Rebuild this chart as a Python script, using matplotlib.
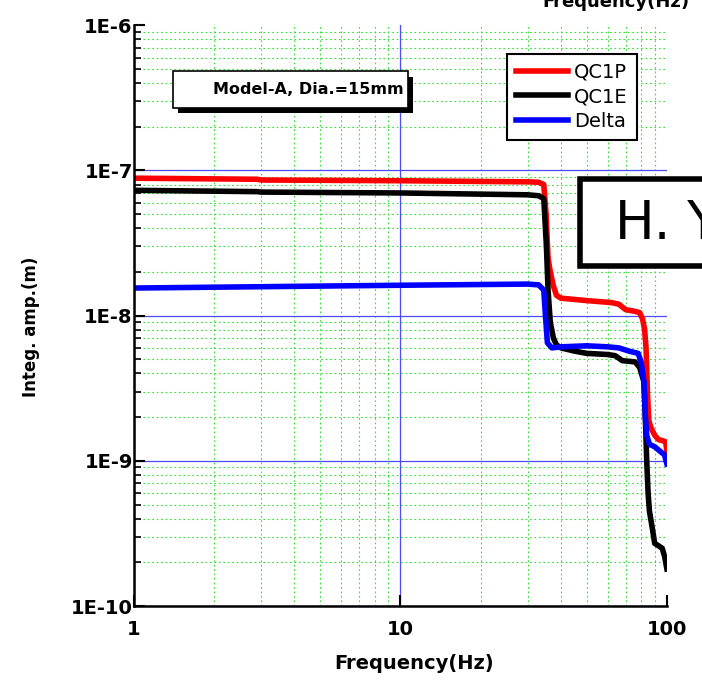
import numpy as np
import matplotlib.pyplot as plt
from matplotlib.patches import Rectangle
from matplotlib.ticker import LogLocator, NullFormatter, FixedLocator

# integrated amplitude vs frequency
f_qc1p = [1, 2.9, 3.0, 10, 30, 33, 34.5, 35.2, 35.8, 36.5, 37.5, 38.5, 40, 50, 62, 66, 70, 76, 79,
          81, 82.5, 83.5, 84.5, 85.5, 87, 90, 93, 96, 99, 100]
a_qc1p = [8.85e-8, 8.7e-8, 8.6e-8, 8.5e-8, 8.35e-8, 8.3e-8, 8.0e-8, 5e-8, 2.5e-8, 2.0e-8, 1.6e-8,
          1.38e-8, 1.32e-8, 1.27e-8, 1.23e-8, 1.2e-8, 1.1e-8, 1.07e-8, 1.05e-8, 9.5e-9, 8e-9, 6e-9,
          3e-9, 1.9e-9, 1.7e-9, 1.5e-9, 1.4e-9, 1.38e-9, 1.35e-9, 1.15e-9]

f_qc1e = [1, 2.9, 3.0, 10, 30, 33, 34.5, 35.3, 35.8, 36.5, 37.5, 38.5, 40, 45, 50, 60, 64, 68, 76,
          79, 82, 83, 84, 85, 86, 88, 90, 93, 96, 98, 100]
a_qc1e = [7.3e-8, 7.15e-8, 7.1e-8, 7.0e-8, 6.8e-8, 6.7e-8, 6.4e-8, 3e-8, 1.5e-8, 9e-9, 7e-9, 6.3e-9,
          6.0e-9, 5.7e-9, 5.5e-9, 5.4e-9, 5.3e-9, 4.9e-9, 4.8e-9, 4.4e-9, 3.5e-9, 2e-9, 1e-9, 6e-10,
          4.5e-10, 3.5e-10, 2.7e-10, 2.6e-10, 2.5e-10, 2.2e-10, 1.8e-10]

f_delta = [1, 10, 30, 33, 34.5, 35, 35.6, 37, 40, 50, 60, 66, 72, 78, 80, 82, 83, 84, 86, 90, 95, 98, 100]
a_delta = [1.55e-8, 1.62e-8, 1.65e-8, 1.63e-8, 1.5e-8, 1.0e-8, 6.5e-9, 6.0e-9, 6.1e-9, 6.2e-9, 6.1e-9,
           6.0e-9, 5.7e-9, 5.5e-9, 4.8e-9, 3.5e-9, 2e-9, 1.5e-9, 1.3e-9, 1.25e-9, 1.15e-9, 1.1e-9, 0.95e-9]

y_ticks = [1e-10, 1e-9, 1e-8, 1e-7, 1e-6]
y_labels = ['1E-10', '1E-9', '1E-8', '1E-7', '1E-6']
x_ticks = [1, 10, 100]
x_labels = ['1', '10', '100']

plt.rcParams['font.family'] = ['DejaVu Sans']
plt.rcParams['xtick.direction'] = 'in'
plt.rcParams['ytick.direction'] = 'in'

fig = plt.figure(figsize=(7.02, 6.84), dpi=100)
ax = fig.add_axes([0.191, 0.114, 0.759, 0.849])

ax.plot(f_qc1p, a_qc1p, color='#ff0000', lw=4, label='QC1P', solid_joinstyle='round')
ax.plot(f_qc1e, a_qc1e, color='black', lw=4, label='QC1E', solid_joinstyle='round')
ax.plot(f_delta, a_delta, color='#0000ff', lw=4, label='Delta', solid_joinstyle='round')

ax.set_xscale('log')
ax.set_yscale('log')
ax.set_xlim(1, 100)
ax.set_ylim(1e-10, 1e-6)

ax.xaxis.set_major_locator(FixedLocator(x_ticks))
ax.set_xticklabels(x_labels)
ax.yaxis.set_major_locator(FixedLocator(y_ticks))
ax.set_yticklabels(y_labels)
ax.xaxis.set_minor_locator(LogLocator(base=10, subs=np.arange(2, 10)))
ax.yaxis.set_minor_locator(LogLocator(base=10, subs=np.arange(2, 10)))
ax.xaxis.set_minor_formatter(NullFormatter())
ax.yaxis.set_minor_formatter(NullFormatter())

ax.grid(True, which='minor', color='#33dd33', ls=(0, (1.5, 2.5)), lw=0.8)
ax.grid(True, which='major', color='#4a4aff', ls='-', lw=0.9)
ax.set_axisbelow(True)
# no major grid on the outer edges
ax.yaxis.get_gridlines()[-1].set_visible(False)
ax.xaxis.get_gridlines()[-1].set_visible(False)

for s in ['top', 'right']:
    ax.spines[s].set_visible(False)
for s in ['left', 'bottom']:
    ax.spines[s].set_linewidth(1.8)

ax.tick_params(axis='both', which='major', direction='in', length=8, width=1.5, labelsize=14)
ax.tick_params(axis='y', which='major', pad=1)
ax.tick_params(axis='x', which='major', pad=10)
ax.tick_params(axis='both', which='minor', direction='in', length=5, width=1.2)
ax.tick_params(axis='x', which='minor', length=0)
for lab in ax.get_xticklabels() + ax.get_yticklabels():
    lab.set_fontweight('bold')

ax.set_xlabel('Frequency(Hz)', fontsize=14, fontweight='bold')
ax.xaxis.set_label_coords(0.525, -0.082)
ax.set_ylabel('Integ. amp.(m)', fontsize=12, fontweight='bold')
ax.yaxis.set_label_coords(-0.176, 0.48)

leg = ax.legend(loc='upper left', bbox_to_anchor=(0.682, 0.968), fontsize=14, frameon=True,
                fancybox=False, handlelength=2.7, borderpad=0.45, labelspacing=0.3,
                handletextpad=0.3)
leg.get_frame().set_edgecolor('black')
leg.get_frame().set_linewidth(1.5)
leg.get_frame().set_alpha(1)

# annotation box with shadow
fig.patches.append(Rectangle((178 / 702, 1 - 113 / 684), 235 / 702, 36 / 684,
                             transform=fig.transFigure, facecolor='black', zorder=5))
fig.patches.append(Rectangle((173 / 702, 1 - 108 / 684), 235 / 702, 37 / 684,
                             transform=fig.transFigure, facecolor='white', edgecolor='black',
                             lw=1.2, zorder=6))
fig.text(404 / 702, 1 - 90 / 684, 'Model-A, Dia.=15mm', ha='right', va='center',
         fontsize=11.5, fontweight='bold', zorder=7)

# clipped box on the right
fig.patches.append(Rectangle((580 / 702, 1 - 266 / 684), 140 / 702, 87 / 684,
                             transform=fig.transFigure, facecolor='white', edgecolor='black',
                             lw=4, zorder=6))
fig.text(615 / 702, 1 - 224 / 684, 'H. Y', ha='left', va='center', fontsize=38, zorder=7)

# clipped title at top right
fig.text(690 / 702, 1 - 2 / 684, 'Frequency(Hz)', ha='right', va='center',
         fontsize=13, fontweight='bold')

fig.savefig('out.png', dpi=100)
